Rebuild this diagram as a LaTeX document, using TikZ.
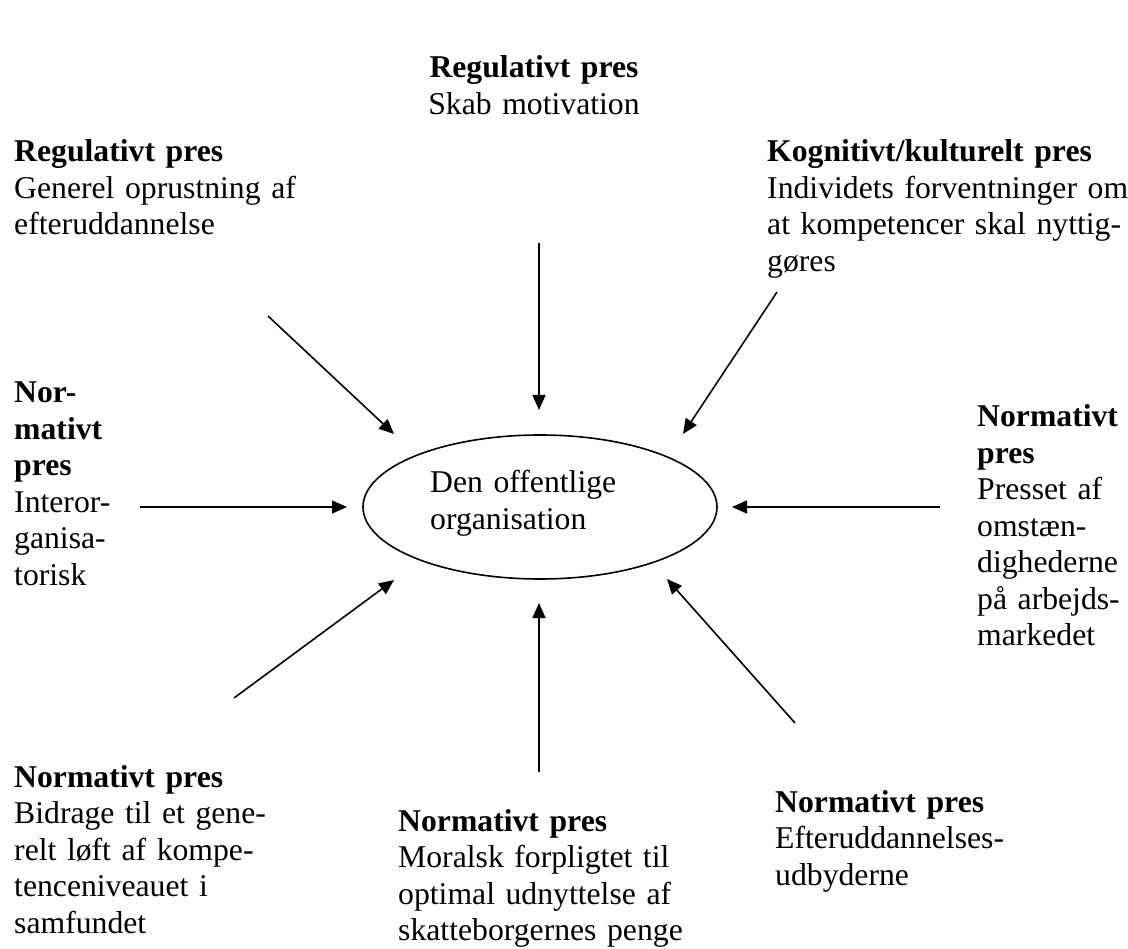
\documentclass[tikz,border=0pt]{standalone}
\usepackage{fontspec}
\setmainfont{Liberation Serif}
\usetikzlibrary{arrows.meta,shapes.geometric}
\begin{document}
\begin{tikzpicture}[x=1pt,y=-1pt,
  txt/.style={font=\fontsize{31.7}{36.5}\selectfont, inner sep=0pt, anchor=base west, text width=#1, align=left},
  txt/.default=420pt,
  arr/.style={line width=1.6pt, -{Triangle[length=15pt,width=13pt]}},
  org/.style={draw, line width=1.6pt, ellipse, minimum width=354pt, minimum height=144pt, inner sep=0pt}]
\useasboundingbox (0,0) rectangle (1128,949);

% centre
\node[org] (org) at (540,507) {};
\node[txt=250pt] (orgtxt) at (430,493) {Den offentlige\\organisation};

% text blocks
\node[txt=300pt, anchor=base, align=center] (tc) at (534,78) {\textbf{Regulativt pres}\\Skab motivation};
\node[txt] (tl) at (14,162) {\textbf{Regulativt pres}\\Generel oprustning af\\efteruddannelse};
\node[txt] (tr) at (767,162) {\textbf{Kognitivt/kulturelt pres}\\Individets forventninger om\\at kompetencer skal nyttig-\\gøres};
\node[txt=200pt] (ml) at (14,403) {\textbf{Nor-}\\\textbf{mativt}\\\textbf{pres}\\Interor-\\ganisa-\\torisk};
\node[txt=200pt] (mr) at (977,427) {\textbf{Normativt}\\\textbf{pres}\\Presset af\\omstæn-\\dighederne\\på arbejds-\\markedet};
\node[txt] (bl) at (14,787) {\textbf{Normativt pres}\\Bidrage til et gene-\\relt løft af kompe-\\tenceniveauet i\\samfundet};
\node[txt] (bm) at (398,831) {\textbf{Normativt pres}\\Moralsk forpligtet til\\optimal udnyttelse af\\skatteborgernes penge};
\node[txt] (br) at (775,812) {\textbf{Normativt pres}\\Efteruddannelses-\\udbyderne};

% arrow end points
\coordinate (a1s) at (539,243); \coordinate (a1e) at (539,410);
\coordinate (a2s) at (268,316); \coordinate (a2e) at (394,434);
\coordinate (a3s) at (777,292); \coordinate (a3e) at (683,434);
\coordinate (a4s) at (140,507); \coordinate (a4e) at (347,507);
\coordinate (a5s) at (940,507); \coordinate (a5e) at (732,507);
\coordinate (a6s) at (234,698); \coordinate (a6e) at (394,580);
\coordinate (a7s) at (539,772); \coordinate (a7e) at (539,603);
\coordinate (a8s) at (795,723); \coordinate (a8e) at (667,579);

\draw[arr] (a1s) -- (a1e);
\draw[arr] (a2s) -- (a2e);
\draw[arr] (a3s) -- (a3e);
\draw[arr] (a4s) -- (a4e);
\draw[arr] (a5s) -- (a5e);
\draw[arr] (a6s) -- (a6e);
\draw[arr] (a7s) -- (a7e);
\draw[arr] (a8s) -- (a8e);
\end{tikzpicture}
\end{document}
